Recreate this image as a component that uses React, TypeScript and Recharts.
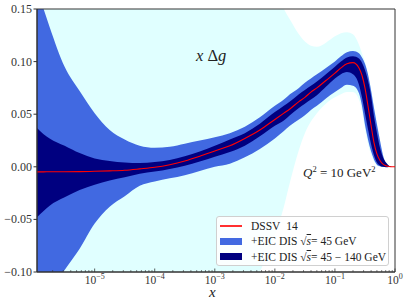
import React from "react";
import {
  ComposedChart,
  Area,
  Line,
  XAxis,
  YAxis,
  ReferenceArea,
} from "recharts";

const SERIF = "Liberation Serif";

// log10(x) sample points
const LOGX = [
  -5.96, -5.85, -5.75, -5.5, -5.25, -5.0, -4.75, -4.5, -4.25, -4.0, -3.75, -3.5,
  -3.25, -3.0, -2.75, -2.5, -2.25, -2.0, -1.85, -1.75, -1.6, -1.5, -1.4, -1.3,
  -1.15, -1.0, -0.9, -0.8, -0.7, -0.6, -0.55, -0.5, -0.45, -0.4, -0.35, -0.3,
  -0.25, -0.2, -0.15, -0.1, -0.05, 0,
];

const DSSV14 = [
  -0.0048, -0.0048, -0.0047, -0.0047, -0.0046, -0.0043, -0.0039, -0.0033, -0.002,
  -0.0005, 0.002, 0.0055, 0.01, 0.015, 0.02, 0.027, 0.035, 0.045, 0.051, 0.055,
  0.062, 0.066, 0.071, 0.075, 0.082, 0.089, 0.094, 0.098, 0.099, 0.094, 0.087,
  0.075, 0.058, 0.04, 0.023, 0.012, 0.006, 0.0025, 0.001, 0.0003, 0, 0,
];

// EIC 45-140 GeV band
const NAVY_LO = [
  -0.048, -0.042, -0.037, -0.029, -0.022, -0.017, -0.013, -0.01, -0.0065, -0.0045,
  -0.002, 0.001, 0.005, 0.0095, 0.014, 0.02, 0.029, 0.039, 0.044, 0.049, 0.056,
  0.06, 0.064, 0.068, 0.076, 0.084, 0.088, 0.09, 0.088, 0.078, 0.066, 0.051, 0.036,
  0.022, 0.011, 0.004, 0.001, 0, -0.0005, -0.0003, 0, 0,
];
const NAVY_HI = [
  0.037, 0.031, 0.027, 0.02, 0.013, 0.008, 0.0055, 0.004, 0.0035, 0.0045, 0.0065,
  0.01, 0.0145, 0.02, 0.026, 0.032, 0.041, 0.052, 0.058, 0.062, 0.069, 0.073, 0.077,
  0.081, 0.088, 0.095, 0.1, 0.104, 0.105, 0.103, 0.099, 0.092, 0.082, 0.068, 0.048,
  0.032, 0.018, 0.009, 0.004, 0.001, 0, 0,
];

// EIC 45 GeV band
const BLUE_LO = [
  -0.14, -0.128, -0.118, -0.098, -0.078, -0.054, -0.038, -0.028, -0.018, -0.014,
  -0.011, -0.008, -0.004, 0, 0.003, 0.009, 0.017, 0.027, 0.034, 0.039, 0.045,
  0.049, 0.054, 0.058, 0.065, 0.071, 0.075, 0.078, 0.077, 0.07, 0.058, 0.04, 0.026,
  0.015, 0.007, 0.002, 0.0005, 0, 0, 0, 0, 0,
];
const BLUE_HI = [
  0.168, 0.15, 0.133, 0.095, 0.072, 0.051, 0.035, 0.026, 0.02, 0.018, 0.019, 0.022,
  0.025, 0.028, 0.032, 0.038, 0.047, 0.058, 0.064, 0.069, 0.075, 0.08, 0.084, 0.088,
  0.094, 0.1, 0.105, 0.109, 0.11, 0.108, 0.104, 0.098, 0.088, 0.073, 0.056, 0.04,
  0.025, 0.011, 0.003, 0.0008, 0, 0,
];

// DSSV14 uncertainty band
const CYAN_LO = [
  -0.45, -0.42, -0.4, -0.36, -0.32, -0.29, -0.26, -0.24, -0.22, -0.21, -0.2, -0.19,
  -0.18, -0.17, -0.155, -0.13, -0.1, -0.065, -0.038, -0.015, 0.016, 0.032, 0.043,
  0.051, 0.06, 0.066, 0.069, 0.071, 0.071, 0.064, 0.053, 0.036, 0.022, 0.012, 0.005,
  0.001, 0, 0, 0, 0, 0, 0,
];
const CYAN_HI = [
  0.5, 0.48, 0.46, 0.43, 0.4, 0.37, 0.35, 0.33, 0.31, 0.3, 0.29, 0.28, 0.27, 0.26,
  0.24, 0.22, 0.195, 0.17, 0.15, 0.14, 0.126, 0.119, 0.115, 0.114, 0.118, 0.124,
  0.127, 0.128, 0.126, 0.116, 0.108, 0.1, 0.088, 0.075, 0.058, 0.042, 0.026, 0.012,
  0.004, 0.001, 0, 0,
];

const Y_TICKS = [-0.1, -0.05, 0, 0.05, 0.1, 0.15];
const MAJOR_EXP = [-5, -4, -3, -2, -1, 0];
const MINOR_MULT = [2, 3, 4, 5, 6, 7, 8, 9];
const MINOR_DECADES = [-6, -5, -4, -3, -2, -1];
const XMIN = -5.96;

const X_TICKS = [
  ...MAJOR_EXP,
  ...MINOR_DECADES.flatMap((d) => MINOR_MULT.map((m) => d + Math.log10(m))).filter(
    (v) => v >= XMIN
  ),
].sort((a, b) => a - b);

const data = LOGX.map((lx, i) => ({
  lx,
  dssv: DSSV14[i],
  cyan: [CYAN_LO[i], CYAN_HI[i]],
  blue: [BLUE_LO[i], BLUE_HI[i]],
  navy: [NAVY_LO[i], NAVY_HI[i]],
}));

function XTick(props: any) {
  const { x, y, payload } = props;
  const v = payload.value;
  const e = Math.round(v);
  const major = Math.abs(v - e) < 1e-9;
  return (
    <g>
      <line
        x1={x}
        x2={x}
        y1={y}
        y2={y - (major ? 3.5 : 2)}
        stroke="#333"
        strokeWidth={major ? 0.8 : 0.6}
      />
      {major && (
        <text x={x} y={y + 11.5} textAnchor="middle" fontSize={11.5} fill="#333" fontFamily={SERIF}>
          10
          <tspan dy={-4.5} fontSize={8}>
            {e < 0 ? `\u2212${-e}` : `${e}`}
          </tspan>
        </text>
      )}
    </g>
  );
}

function YTick(props: any) {
  const { x, y, payload } = props;
  const label = payload.value.toFixed(2).replace("-", "\u2212");
  return (
    <text
      x={x}
      y={y}
      dy={4}
      textAnchor="end"
      fontSize={12}
      fill="#333"
      fontFamily={SERIF}
    >
      {label}
    </text>
  );
}

function Legend() {
  const row: React.CSSProperties = {
    display: "flex",
    alignItems: "center",
    height: 15.5,
  };
  const sw = (bg: string): React.CSSProperties => ({
    width: 22,
    height: 7,
    background: bg,
    marginRight: 9,
  });
  const sq = (
    <>
      {"\u221A"}
      <span style={{ textDecoration: "overline", fontStyle: "italic" }}>s</span>
    </>
  );
  return (
    <div
      style={{
        position: "absolute",
        left: 216,
        top: 216,
        width: 173,
        height: 50,
        border: "1px solid #d0d0d0",
        borderRadius: 3,
        background: "rgba(255,255,255,0.85)",
        boxSizing: "border-box",
        padding: "1px 0 0 3px",
        fontFamily: SERIF,
        fontSize: 11.5,
        color: "#222",
        whiteSpace: "nowrap",
      }}
    >
      <div style={row}>
        <div style={{ width: 22, height: 1.5, background: "#ff3030", marginRight: 9 }} />
        DSSV&nbsp;&nbsp;14
      </div>
      <div style={row}>
        <div style={sw("#4169e1")} />
        +EIC DIS {sq} = 45 GeV
      </div>
      <div style={row}>
        <div style={sw("#000080")} />
        +EIC DIS {sq} = 45 {"\u2212"} 140 GeV
      </div>
    </div>
  );
}

export default function App() {
  return (
    <div style={{ position: "relative", width: 407, height: 305, background: "#fff" }}>
      <style>{"body{margin:0}"}</style>
      <ComposedChart
        width={407}
        height={305}
        data={data}
        margin={{ top: 9, right: 12, bottom: 0, left: 0 }}
      >
        <XAxis
          dataKey="lx"
          type="number"
          domain={[XMIN, 0]}
          allowDataOverflow
          ticks={X_TICKS}
          interval={0}
          tickSize={0}
          tickMargin={0}
          tickLine={false}
          tick={<XTick />}
          height={33}
          axisLine={{ stroke: "#333" }}
        />
        <YAxis
          type="number"
          domain={[-0.1, 0.15]}
          allowDataOverflow
          ticks={Y_TICKS}
          interval={0}
          width={37}
          tickSize={3.5}
          tickMargin={1.5}
          tickLine={{ stroke: "#333" }}
          axisLine={{ stroke: "#333" }}
          tick={<YTick />}
        />
        <Area
          dataKey="cyan"
          type="monotone"
          fill="#e0ffff"
          fillOpacity={1}
          stroke="none"
          isAnimationActive={false}
        />
        <Area
          dataKey="blue"
          type="monotone"
          fill="#4169e1"
          fillOpacity={1}
          stroke="none"
          isAnimationActive={false}
        />
        <Area
          dataKey="navy"
          type="monotone"
          fill="#000080"
          fillOpacity={1}
          stroke="none"
          isAnimationActive={false}
        />
        <Line
          dataKey="dssv"
          type="monotone"
          stroke="#ff0000"
          strokeWidth={1.1}
          dot={false}
          isAnimationActive={false}
        />
        <ReferenceArea
          x1={XMIN}
          x2={0}
          y1={-0.1}
          y2={0.15}
          fill="none"
          stroke="#333"
          strokeWidth={1}
        />
      </ComposedChart>
      <div
        style={{
          position: "absolute",
          left: 196,
          top: 46,
          fontFamily: SERIF,
          fontSize: 16.5,
          color: "#222",
          whiteSpace: "nowrap",
        }}
      >
        <i>x</i> {"\u0394"}
        <i>g</i>
      </div>
      <div
        style={{
          position: "absolute",
          left: 303,
          top: 164,
          fontFamily: SERIF,
          fontSize: 13,
          color: "#222",
          whiteSpace: "nowrap",
        }}
      >
        <i>Q</i>
        <sup style={{ fontSize: 8.5 }}>2</sup> = 10 GeV<sup style={{ fontSize: 8.5 }}>2</sup>
      </div>
      <div
        style={{
          position: "absolute",
          left: 209,
          top: 284,
          fontFamily: SERIF,
          fontSize: 15,
          fontStyle: "italic",
          color: "#222",
        }}
      >
        x
      </div>
      <Legend />
    </div>
  );
}
